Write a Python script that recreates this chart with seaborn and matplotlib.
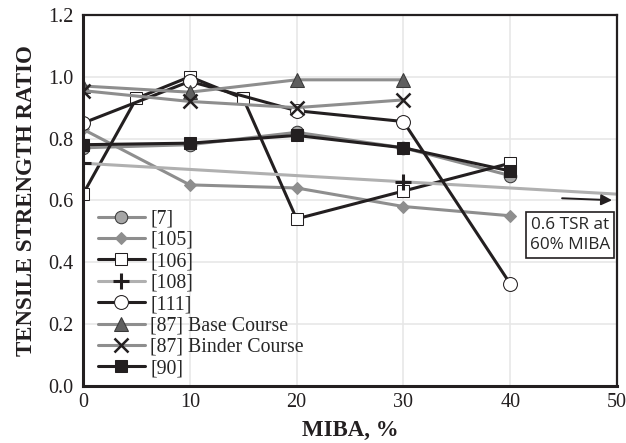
import matplotlib
matplotlib.use('Agg')
import matplotlib.pyplot as plt
import seaborn as sns
import pandas as pd

# values
x_7 = [0, 10, 20, 30, 40]
y_7 = [0.77, 0.78, 0.82, 0.77, 0.68]
x_105 = [0, 10, 20, 30, 40]
y_105 = [0.83, 0.65, 0.64, 0.58, 0.55]
x_106 = [0, 5, 10, 15, 20, 30, 40]
y_106 = [0.62, 0.93, 1.00, 0.93, 0.54, 0.63, 0.72]
x_108 = [0, 30, 50]
y_108 = [0.72, 0.66, 0.62]
x_111 = [0, 10, 20, 30, 40]
y_111 = [0.85, 0.985, 0.89, 0.855, 0.33]
x_base = [0, 10, 20, 30]
y_base = [0.97, 0.95, 0.99, 0.99]
x_binder = [0, 10, 20, 30]
y_binder = [0.955, 0.92, 0.90, 0.925]
x_90 = [0, 10, 20, 30, 40]
y_90 = [0.78, 0.785, 0.81, 0.77, 0.695]

x_ticks = [0, 10, 20, 30, 40, 50]
y_ticks = [0.0, 0.2, 0.4, 0.6, 0.8, 1.0, 1.2]

sns.set_style('whitegrid')
plt.rcParams['font.family'] = ['Liberation Serif', 'DejaVu Serif']

fig = plt.figure(figsize=(6.26, 4.43), dpi=100)
ax = fig.add_axes([0.1326, 0.1293, 0.853, 0.837])

black = '#231f20'
grey = '#8e8e8e'
light = '#b0b0b0'

series = [
    ('[7]', x_7, y_7, dict(color=grey, marker='o', markerfacecolor='#a6a6a6', markeredgecolor='#3a3a3a', markersize=9)),
    ('[105]', x_105, y_105, dict(color=grey, marker='D', markerfacecolor=grey, markeredgecolor=grey, markersize=6)),
    ('[106]', x_106, y_106, dict(color=black, marker='s', markerfacecolor='white', markeredgecolor=black, markersize=9)),
    ('[108]', x_108, y_108, dict(color=light, marker='+', markeredgecolor=black, markersize=11, markeredgewidth=2.2, markevery=[0, 1])),
    ('[111]', x_111, y_111, dict(color=black, marker='o', markerfacecolor='white', markeredgecolor=black, markersize=10)),
    ('[87] Base Course', x_base, y_base, dict(color=grey, marker='^', markerfacecolor='#5f5f5f', markeredgecolor='#3a3a3a', markersize=10)),
    ('[87] Binder Course', x_binder, y_binder, dict(color=grey, marker='x', markeredgecolor=black, markersize=10, markeredgewidth=1.8)),
    ('[90]', x_90, y_90, dict(color=black, marker='s', markerfacecolor=black, markeredgecolor=black, markersize=9)),
]

for label, xs, ys, style in series:
    df = pd.DataFrame({'x': xs, 'y': ys})
    sns.lineplot(data=df, x='x', y='y', ax=ax, label=label, linewidth=2.2, **style)

ax.set_xlim(0, 50)
ax.set_ylim(0, 1.2)
ax.set_xticks(x_ticks)
ax.set_yticks(y_ticks)
ax.set_yticklabels([f'{v:.1f}' for v in y_ticks])
ax.grid(True, color='#e6e6e6', linewidth=1.1)
ax.tick_params(direction='in', length=5, width=1.2, colors=black, labelsize=14.5, pad=7)
ax.tick_params(axis='x', pad=5)
for side in ['left', 'bottom']:
    ax.spines[side].set_linewidth(2.2)
    ax.spines[side].set_color(black)
for side in ['top', 'right']:
    ax.spines[side].set_linewidth(1.6)
    ax.spines[side].set_color(black)

ax.set_xlabel('MIBA, %', fontsize=16.5, fontweight='bold', color=black, labelpad=6)
ax.set_ylabel('TENSILE STRENGTH RATIO', fontsize=16.5, fontweight='bold', color=black, labelpad=8)

leg = ax.legend(loc='lower left', bbox_to_anchor=(0.005, -0.012), frameon=False, fontsize=14.3,
                handlelength=2.4, labelspacing=0.12, handletextpad=0.25, borderaxespad=0.2)

ax.annotate('', xy=(49.8, 0.60), xytext=(44.6, 0.607),
            arrowprops=dict(arrowstyle='-|>', color=black, lw=1.4, mutation_scale=16))
ax.text(45.6, 0.488, '0.6 TSR at\n60% MIBA', ha='center', va='center', fontsize=12.3,
        family=['Open Sans', 'DejaVu Sans'], linespacing=1.4,
        bbox=dict(boxstyle='square,pad=0.25', facecolor='white', edgecolor=black, linewidth=1.2))

fig.savefig('out.png', dpi=100)
